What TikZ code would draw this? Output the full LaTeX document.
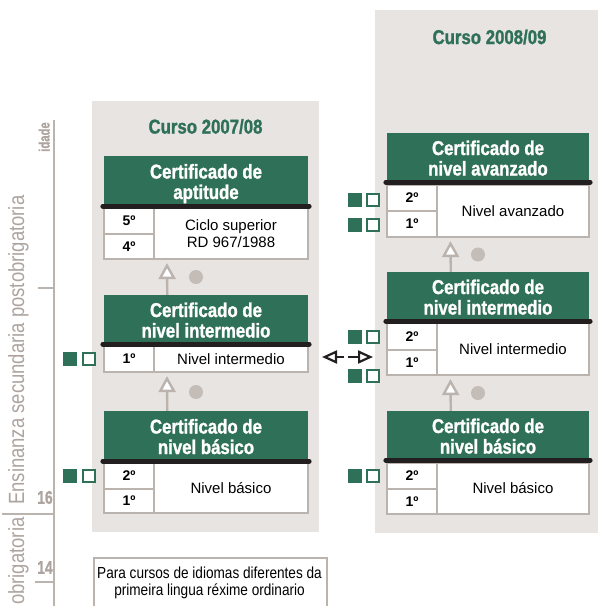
\documentclass[tikz,border=0pt]{standalone}
\usepackage{fontspec}
\setmainfont{Liberation Sans}
\newfontfamily\hdrfont[FakeStretch=0.84,BoldFeatures={FakeStretch=0.84,FakeBold=1.2}]{Liberation Sans}
\newfontfamily\notefont[FakeStretch=0.85]{Liberation Sans}
\newfontfamily\axisfont[FakeStretch=0.84,BoldFeatures={FakeStretch=0.75,FakeBold=1.2}]{Liberation Sans}
\usetikzlibrary{arrows.meta}
\definecolor{cgreen}{HTML}{2E7058}
\definecolor{barblack}{HTML}{231F20}
\definecolor{panelgray}{HTML}{E8E4E1}
\definecolor{lgray}{HTML}{BBB3AE}
\definecolor{dotgray}{HTML}{C4BCB7}
\definecolor{axisgray}{HTML}{ADA49F}
\begin{document}
\begin{tikzpicture}[x=1pt,y=-1pt,
  panel/.style={fill=panelgray, draw=none, inner sep=0pt},
  title/.style={text=cgreen, font=\hdrfont\bfseries\fontsize{20}{21}\selectfont, inner sep=0pt},
  hdr/.style={fill=cgreen, inner sep=0pt},
  hdrtxt/.style={text=white, font=\hdrfont\bfseries\fontsize{20}{20.5}\selectfont, align=center, inner sep=0pt, anchor=base},
  cell/.style={draw=lgray, line width=1.2pt, fill=white, inner sep=0pt, font=\bfseries\fontsize{14}{15}\selectfont},
  bodyt/.style={cell, font=\fontsize{15}{16.5}\selectfont, align=center},
  blackbar/.style={line width=4.8pt, line cap=round, draw=barblack},
  uparr/.style={draw=lgray, line width=2.4pt, shorten >=3.5pt, -{Triangle[length=16pt,width=17pt,fill=white]}},
  dblarr/.style={draw=barblack, line width=2.2pt, -{Triangle[length=15pt,width=13pt,fill=white]}},
  dot/.style={circle, fill=dotgray, minimum size=14pt, inner sep=0pt},
  sqf/.style={fill=cgreen, minimum size=14pt, inner sep=0pt},
  sqo/.style={draw=cgreen, line width=2pt, fill=white, minimum size=12pt, inner sep=0pt},
  axis/.style={draw=lgray, line width=2pt},
  axislbl/.style={text=axisgray, font=\axisfont\bfseries\fontsize{18.5}{18.5}\selectfont, inner sep=0pt},
  sidelbl/.style={text=axisgray, font=\axisfont\fontsize{22}{22}\selectfont, inner sep=0pt, rotate=90},
  note/.style={draw=lgray, line width=1.5pt, fill=white, inner sep=0pt},
  notetxt/.style={font=\notefont\fontsize{16}{17}\selectfont, align=center, inner sep=0pt, anchor=base}
]
\useasboundingbox (0,0) rectangle (598,606);

% panels
\node[panel, minimum width=227, minimum height=431] (pL) at (205.5,316.5) {};
\node[panel, minimum width=223, minimum height=523] (pR) at (486.5,271.5) {};

% titles
\node[title] (t1) at (205.5,126.5) {Curso 2007/08};
\node[title] (t2) at (489.5,37) {Curso 2008/09};

% ---------- left column ----------
% aptitude
\node[hdr, minimum width=204, minimum height=50] (hA) at (206,181) {};
\node[hdrtxt] (hAt) at (206,199) {Certificado de\\aptitude};
\node[cell, minimum width=50, minimum height=26] (cA1) at (129,221) {5º};
\node[cell, minimum width=50, minimum height=25] (cA2) at (129,246.5) {4º};
\node[bodyt, minimum width=154, minimum height=51] (tA) at (231,233.5) {Ciclo superior\\RD 967/1988};
\draw[blackbar] ([xshift=-1pt]hA.south west) -- ([xshift=1pt]hA.south east);

% intermedio
\node[hdr, minimum width=204, minimum height=49] (hB) at (206,319.5) {};
\node[hdrtxt] (hBt) at (206,337.5) {Certificado de\\nivel intermedio};
\node[cell, minimum width=50, minimum height=26] (cB1) at (129,359) {1º};
\node[bodyt, minimum width=154, minimum height=26] (tB) at (231,359) {Nivel intermedio};
\draw[blackbar] ([xshift=-1pt]hB.south west) -- ([xshift=1pt]hB.south east);

% basico
\node[hdr, minimum width=204, minimum height=50] (hC) at (206,436) {};
\node[hdrtxt] (hCt) at (206,454) {Certificado de\\nivel básico};
\node[cell, minimum width=50, minimum height=26] (cC1) at (129,476) {2º};
\node[cell, minimum width=50, minimum height=24] (cC2) at (129,501) {1º};
\node[bodyt, minimum width=154, minimum height=50] (tC) at (231,488) {Nivel básico};
\draw[blackbar] ([xshift=-1pt]hC.south west) -- ([xshift=1pt]hC.south east);

% ---------- right column ----------
% avanzado
\node[hdr, minimum width=202, minimum height=49] (hD) at (488,157.5) {};
\node[hdrtxt] (hDt) at (488,175.5) {Certificado de\\nivel avanzado};
\node[cell, minimum width=50, minimum height=26] (cD1) at (412,198) {2º};
\node[cell, minimum width=50, minimum height=26] (cD2) at (412,224) {1º};
\node[bodyt, minimum width=152, minimum height=52] (tD) at (513,211) {Nivel avanzado};
\draw[blackbar] ([xshift=-1pt]hD.south west) -- ([xshift=1pt]hD.south east);

% intermedio
\node[hdr, minimum width=202, minimum height=49] (hE) at (488,296.5) {};
\node[hdrtxt] (hEt) at (488,314.5) {Certificado de\\nivel intermedio};
\node[cell, minimum width=50, minimum height=27] (cE1) at (412,336.5) {2º};
\node[cell, minimum width=50, minimum height=25] (cE2) at (412,362.5) {1º};
\node[bodyt, minimum width=152, minimum height=52] (tE) at (513,349) {Nivel intermedio};
\draw[blackbar] ([xshift=-1pt]hE.south west) -- ([xshift=1pt]hE.south east);

% basico
\node[hdr, minimum width=202, minimum height=49] (hF) at (488,435.5) {};
\node[hdrtxt] (hFt) at (488,453.5) {Certificado de\\nivel básico};
\node[cell, minimum width=50, minimum height=26] (cF1) at (412,476) {2º};
\node[cell, minimum width=50, minimum height=25] (cF2) at (412,501.5) {1º};
\node[bodyt, minimum width=152, minimum height=51] (tF) at (513,488.5) {Nivel básico};
\draw[blackbar] ([xshift=-1pt]hF.south west) -- ([xshift=1pt]hF.south east);

% ---------- arrows and dots ----------
\draw[uparr] ([xshift=63.5pt]hB.north west) -- ([xshift=63.5pt]cA2.south west);
\draw[uparr] ([xshift=63.5pt]hC.north west) -- ([xshift=63.5pt]cB1.south west);
\draw[uparr] ([xshift=64pt]hE.north west) -- ([xshift=64pt]cD2.south west);
\draw[uparr] ([xshift=64pt]hF.north west) -- ([xshift=64pt]cE2.south west);
\node[dot] (d1) at (196,277) {};
\node[dot] (d2) at (196,392) {};
\node[dot] (d3) at (478,254.5) {};
\node[dot] (d4) at (478,393) {};

% double arrow
\coordinate (m1) at (344,357);
\coordinate (m2) at (348,357);
\coordinate (al) at (322,357);
\coordinate (ar) at (373,357);
\draw[dblarr] (m1) -- (al);
\draw[dblarr] (m2) -- (ar);

% ---------- squares ----------
\node[sqf] (sqB1) at (69.5,359) {};
\node[sqo] (soB1) at (88.5,359) {};
\node[sqf] (sqC1) at (69.5,476) {};
\node[sqo] (soC1) at (88.5,476) {};
\node[sqf] (sqD1) at (354.5,200) {};
\node[sqo] (soD1) at (373,200) {};
\node[sqf] (sqD2) at (354.5,225) {};
\node[sqo] (soD2) at (373,225) {};
\node[sqf] (sqE1) at (354.5,337) {};
\node[sqo] (soE1) at (373,337) {};
\node[sqf] (sqE2) at (354.5,375.5) {};
\node[sqo] (soE2) at (373,375.5) {};
\node[sqf] (sqF1) at (354.5,476) {};
\node[sqo] (soF1) at (373,476) {};

% ---------- left axis ----------
\coordinate (axtop) at (54,120);
\coordinate (axbot) at (54,610);
\draw[axis] (axtop) -- (axbot);
\coordinate (tk1a) at (38,288);
\coordinate (tk1b) at (54,288);
\draw[axis] (tk1a) -- (tk1b);
\coordinate (sepa) at (2,514);
\coordinate (sepb) at (54,514);
\draw[axis] (sepa) -- (sepb);
\coordinate (tk2a) at (35,582);
\coordinate (tk2b) at (54,582);
\draw[axis] (tk2a) -- (tk2b);
\node[axislbl, font=\axisfont\bfseries\fontsize{15}{15}\selectfont, rotate=90, anchor=base] (idade) at (49.5,137) {idade};
\node[axislbl] (n16) at (45,497.5) {16};
\node[axislbl] (n14) at (45,567.5) {14};
\node[sidelbl, anchor=base west] (ens) at (24,505) {Ensinanza secundaria postobrigatoria};
\node[sidelbl, anchor=base west] (obr) at (24,605) {obrigatoria};

% ---------- note box ----------
\node[note, minimum width=233, minimum height=60] (nb) at (210.5,588) {};
\node[notetxt] (nt) at (209.5,595) {Para cursos de idiomas diferentes da\\primeira lingua réxime ordinario};
\end{tikzpicture}
\end{document}
